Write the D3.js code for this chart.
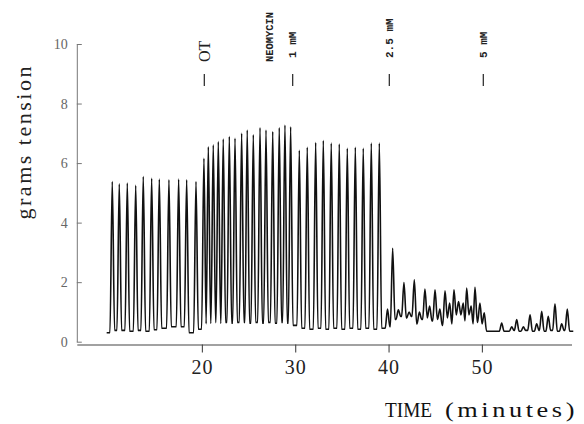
<!DOCTYPE html>
<html><head><meta charset="utf-8">
<script src="https://cdn.jsdelivr.net/npm/d3@7"></script>
<style>body{margin:0;background:#fff}svg{display:block;background:#fff}</style>
</head><body><svg id="chart" width="584" height="424"></svg>
<script>
// ---------- data (minutes, grams tension) ----------
const yTicks = [0, 2, 4, 6, 8, 10];
const xTicks = [20, 30, 40, 50];
const traceStart = [9.80, 0.30];
const traceEnd = [59.79, 0.35];

const controlTimes = [10.40, 11.15, 12.01, 12.91, 13.72, 14.62, 15.44, 16.47, 17.51, 18.37, 19.37];
const controlPeaks = [5.38, 5.30, 5.33, 5.25, 5.55, 5.49, 5.46, 5.44, 5.46, 5.44, 5.38];
const controlTroughs = [0.38, 0.38, 0.35, 0.38, 0.35, 0.40, 0.45, 0.50, 0.50, 0.30, 0.42];

const otTimes = [20.22, 20.69, 21.22, 21.76, 22.29, 22.94, 23.55, 24.26, 24.86, 25.51, 26.23, 26.87, 27.59, 28.29, 28.90, 29.51];
const otPeaks = [6.16, 6.55, 6.61, 6.72, 6.81, 6.89, 6.83, 7.00, 7.11, 6.95, 7.19, 7.11, 7.06, 7.19, 7.28, 7.22];
const otTroughs = [0.60, 0.62, 0.65, 0.62, 0.65, 0.62, 0.65, 0.65, 0.62, 0.65, 0.62, 0.65, 0.62, 0.65, 0.62, 0.55];

const neo1Times = [30.44, 31.29, 32.19, 33.01, 33.86, 34.72, 35.58, 36.44, 37.29, 38.15, 39.01];
const neo1Peaks = [6.43, 6.53, 6.69, 6.76, 6.67, 6.64, 6.50, 6.53, 6.50, 6.67, 6.67];
const neo1Troughs = [0.45, 0.42, 0.45, 0.42, 0.45, 0.42, 0.45, 0.42, 0.45, 0.42, 0.45];

const neo25Times = [39.89, 40.44, 41.05, 41.65, 42.20, 42.76, 43.30, 43.90, 44.40, 44.98, 45.50, 46.05, 46.55, 47.01, 47.50, 48.00, 48.37, 48.85, 49.26, 49.79];
const neo25Peaks = [1.10, 3.14, 1.07, 1.99, 1.00, 2.08, 1.00, 1.77, 1.20, 1.74, 1.10, 1.71, 1.30, 1.74, 1.35, 1.30, 1.80, 1.20, 1.83, 1.30];
const neo25Troughs = [0.50, 0.75, 0.85, 0.80, 0.85, 0.60, 0.75, 0.80, 0.70, 0.75, 0.55, 0.80, 0.60, 0.90, 0.90, 0.70, 0.90, 0.60, 0.65, 0.60];

const neo5Times = [50.25, 52.12, 53.19, 53.73, 54.44, 55.16, 55.87, 56.41, 57.11, 57.83, 58.55, 59.15];
const neo5Peaks = [0.97, 0.63, 0.50, 0.74, 0.50, 0.90, 0.60, 1.02, 0.85, 1.27, 0.60, 1.10];
const neo5Troughs = [0.35, 0.35, 0.38, 0.35, 0.38, 0.35, 0.38, 0.35, 0.38, 0.35, 0.38, 0.35];

const annotTimes = [20.26, 29.73, 40.08, 50.15];
const annotLabels = ["OT", "1 mM", "2.5 mM", "5 mM"];
const drugLabel = "NEOMYCIN";
const yTitle = "grams tension";
const xTitleMain = "TIME";
const xTitleUnit = "(minutes)";

// ---------- scales ----------
const svg = d3.select("#chart");
const x = d3.scaleLinear().domain([6.6, 59.6]).range([76.8, 571.5]);
const y = d3.scaleLinear().domain([0, 10]).range([341.7, 44]);
const serif = "'Liberation Serif','DejaVu Serif',serif";
const mono = "'Liberation Mono','DejaVu Sans Mono',monospace";

// ---------- build trace from peaks / troughs ----------
const phases = [
  [controlTimes, controlPeaks, controlTroughs],
  [otTimes, otPeaks, otTroughs],
  [neo1Times, neo1Peaks, neo1Troughs],
  [neo25Times, neo25Peaks, neo25Troughs],
  [neo5Times, neo5Peaks, neo5Troughs]
];
const peaks = [];
phases.forEach(([ts, ps, tr]) => ts.forEach((t, i) => peaks.push({t, v: ps[i], tr: tr[i]})));
const W = 0.25; // half-width of a contraction foot (minutes)
const pts = [traceStart];
peaks.forEach((p, i) => {
  if (i === 0) {
    if (p.t - traceStart[0] > W) pts.push([p.t - W, traceStart[1]]);
  } else {
    const q = peaks[i - 1];
    const gap = p.t - q.t;
    if (gap > 2 * W) { pts.push([q.t + W, q.tr]); pts.push([p.t - W, q.tr]); }
    else pts.push([(q.t + p.t) / 2, q.tr]);
  }
  pts.push([p.t, p.v]);
});
const last = peaks[peaks.length - 1];
pts.push([last.t + W, last.tr]);
pts.push(traceEnd);

const line = d3.line().x(d => x(d[0])).y(d => y(d[1])).curve(d3.curveMonotoneX);
svg.append("path").datum(pts).attr("d", line)
  .attr("fill", "none").attr("stroke", "#111").attr("stroke-width", 1.6)
  .attr("stroke-linejoin", "round");

// ---------- axes ----------
const yAxis = svg.append("g").attr("transform", `translate(${x(6.6)},0)`)
  .call(d3.axisLeft(y).tickValues(yTicks).tickSizeInner(-5).tickSizeOuter(0).tickPadding(9));
yAxis.selectAll("path,line").attr("stroke", "#777").attr("stroke-width", 1);
yAxis.selectAll("text").attr("font-family", serif).attr("font-size", 14).attr("fill", "#666");

const xAxis = svg.append("g").attr("transform", "translate(0,344.5)")
  .call(d3.axisBottom(x).tickValues(xTicks).tickSize(8).tickSizeOuter(0).tickPadding(7));
xAxis.selectAll("path,line").attr("stroke", "#444").attr("stroke-width", 1.1);
xAxis.selectAll("text").attr("font-family", serif).attr("font-size", 20).attr("fill", "#222")
  .attr("letter-spacing", 1);

// ---------- titles ----------
svg.append("text").attr("transform", "translate(31,143) rotate(-90)")
  .attr("text-anchor", "middle").attr("font-family", serif).attr("font-size", 22)
  .attr("fill", "#222").attr("textLength", 153).attr("lengthAdjust", "spacing").text(yTitle);
svg.append("text").attr("x", 385).attr("y", 417).attr("font-family", serif)
  .attr("font-size", 22).attr("fill", "#111").attr("textLength", 47)
  .attr("lengthAdjust", "spacingAndGlyphs").text(xTitleMain);
svg.append("text").attr("x", 445).attr("y", 417).attr("font-family", serif)
  .attr("font-size", 22).attr("fill", "#111").attr("letter-spacing", 3)
  .attr("textLength", 133).attr("lengthAdjust", "spacingAndGlyphs").text(xTitleUnit);

// ---------- annotations ----------
const ann = svg.append("g");
annotTimes.forEach((t, i) => {
  const ax = x(t);
  ann.append("line").attr("x1", ax).attr("x2", ax).attr("y1", 74).attr("y2", 86)
    .attr("stroke", "#222").attr("stroke-width", 1.2);
  if (i === 0) {
    ann.append("text").attr("transform", `translate(${ax + 5.5},62) rotate(-90)`)
      .attr("font-family", serif).attr("font-size", 16).attr("fill", "#222").text(annotLabels[i]);
  } else {
    ann.append("text").attr("transform", `translate(${ax + 3.5},58) rotate(-90)`)
      .attr("font-family", mono).attr("font-size", 11).attr("font-weight", "bold")
      .attr("fill", "#222").text(annotLabels[i]);
  }
});
ann.append("text").attr("transform", `translate(${x(annotTimes[1]) - 20},62) rotate(-90)`)
  .attr("font-family", mono).attr("font-size", 10).attr("font-weight", "bold")
  .attr("fill", "#222").attr("textLength", 50).attr("lengthAdjust", "spacingAndGlyphs")
  .text(drugLabel);
</script></body></html>
